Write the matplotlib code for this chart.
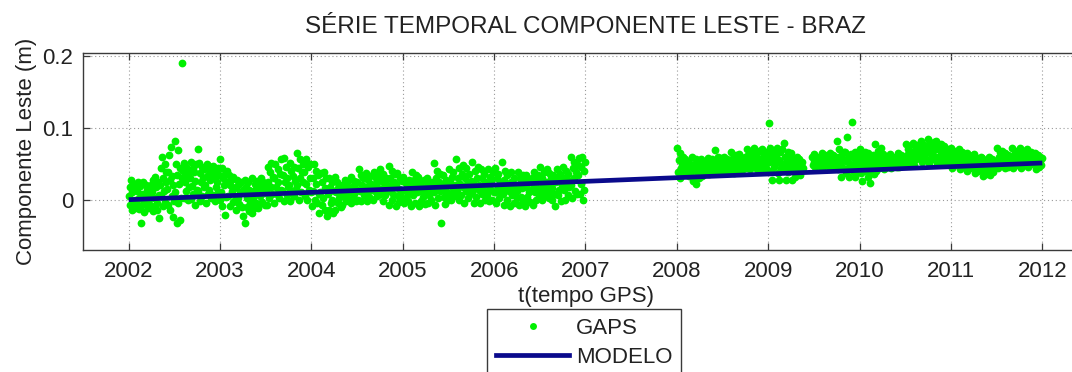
import numpy as np
import matplotlib
matplotlib.use('Agg')
import matplotlib.pyplot as plt
from matplotlib.lines import Line2D

# ---------------- data ----------------
title_text = 'SÉRIE TEMPORAL COMPONENTE LESTE - BRAZ'
xlabel_text = 't(tempo GPS)'
ylabel_text = 'Componente Leste (m)'
legend_labels = ['GAPS', 'MODELO']

x_ticks = [2002, 2003, 2004, 2005, 2006, 2007, 2008, 2009, 2010, 2011, 2012]
y_ticks = [0, 0.1, 0.2]
y_tick_labels = ['0', '0.1', '0.2']

# GAPS east component, millimetres, one list per month (None = no data)
gaps_2002 = [
    [5, -8, 18, 27, -14, 10, -3, 22, 0, -11, 14],
    [12, -6, 25, -13, 3, 19, -32, -9, 8, 24, -2],
    [-17, 6, 21, -4, 13, -12, 17, 1, -8, 9, 20],
    [10, -16, 28, 3, -9, 32, 18, -5, -14, 24, 7],
    [-26, 20, 44, 5, 59, -9, 30, 12, 49, -3, 38, 25],
    [15, -7, 39, 62, 28, -14, 73, 5, 33, -24, 20, -2],
    [82, 10, 49, -33, 35, -5, 69, 22, -28, 44, 2, 30],
    [190, 40, 3, 51, 25, 12, 46, 33, 0, 18, 39],
    [30, 1, 53, 19, 44, 8, 38, -7, 26, 49, 14],
    [70, 12, 51, -2, 37, 24, 45, 5, 30, 18, 42],
    [20, -5, 49, 33, 8, 41, 14, 27, 2, 46, 36],
    [47, 6, 30, -2, 40, 18, 25, 10, 44, 35, 0],
]
gaps_2003 = [
    [57, 10, 44, -9, 30, 20, -22, 36, 4, 25, 40],
    [5, 35, -9, 20, 28, 12, -3, 31, 16, 0],
    [-14, 18, 28, 3, 22, -6, 10, 25, -10, 14],
    [-23, 10, 28, -33, 18, -10, 3, 24, -16, 14, -5],
    [8, -19, 30, 2, -12, 22, 14, -4, 26, -8],
    [-12, 20, 5, 30, -3, 14, 25, 9, -7, 18],
    [12, -7, 46, 25, 2, 38, 18, 51, 8, 32],
    [30, -5, 49, 18, 8, 42, 25, 3, 36, 14],
    [56, 12, 35, -2, 58, 24, 45, 6, 30, 18],
    [20, 51, -2, 40, 12, 33, 5, 46, 26, 15],
    [65, 20, 44, 0, 56, 30, 10, 38, 25, 50],
    [38, 5, 56, 22, 0, 45, 14, 30, 50, 10],
]
gaps_2004 = [
    [-9, 30, 12, 49, 0, 22, 40, -5, 35, 8],
    [-19, 10, 37, -8, 24, 2, 38, -14, 16, 30],
    [-23, 8, 30, -14, 18, -5, 24, 0, -18, 12],
    [32, -14, 10, 25, -5, 16, 2, 20, -10, 6],
    [-7, 20, 5, 28, 12, -2, 24, 9, 16, 0],
    [10, -5, 32, 18, 2, 26, 8, 22, -2, 14],
    [25, 0, 42, 12, 35, -2, 20, 30, 6, 16],
    [8, 37, 18, -2, 28, 12, 33, 2, 22, 14],
    [20, 0, 39, 12, 30, 5, 25, 16, 34, 8],
    [42, 10, 26, -2, 36, 18, 6, 30, 22, 14],
    [12, 47, -7, 30, 20, 0, 40, 8, 25, 36],
    [-9, 22, 37, 5, 15, -3, 30, 10, 26, 2],
]
gaps_2005 = [
    [32, -5, 14, 25, 2, 20, 8, -2, 28, 12],
    [-9, 20, 39, 6, 28, 14, -4, 34, 10, 22],
    [32, -9, 12, 24, -2, 18, 4, 28, 8, -6],
    [14, 30, -5, 20, 6, 25, 0, 16, 10, 24],
    [51, 10, -7, 30, 18, 40, 2, 24, 36, 12],
    [-33, 20, 35, 4, 14, -6, 28, 10, 22, 0],
    [42, 8, 25, 0, 32, 16, 38, 5, 20, 12],
    [56, 14, 30, 0, 44, 22, 6, 36, 18, 48],
    [-5, 30, 44, 12, 22, 2, 36, 18, 8, 26],
    [53, 10, 25, -5, 40, 18, 4, 30, 46, 14],
    [20, -5, 42, 8, 30, 14, 36, 0, 24, 10],
    [6, 42, 20, -2, 32, 14, 26, 0, 38, 10],
]
gaps_2006 = [
    [44, 10, -5, 30, 18, 36, 2, 24, 8, 14],
    [52, 8, -7, 28, 40, 16, 0, 34, 22, 12],
    [-9, 24, 39, 6, 16, -4, 30, 10, 20, 2],
    [12, 39, -7, 22, 30, 4, 16, 34, -2, 26],
    [-9, 18, 35, 4, 24, 10, -3, 28, 14, 30],
    [22, -7, 39, 10, 30, 0, 16, 34, 6, 26],
    [46, 12, 0, 30, 20, 38, 6, 24, 16, 42],
    [10, 37, 2, 22, 30, 0, 16, 34, 8, 26],
    [-9, 24, 42, 6, 32, 14, 36, -2, 20, 28],
    [46, 14, 0, 30, 40, 22, 6, 36, 18, 26],
    [60, 20, 2, 44, 30, 52, 12, 38, 8, 48],
    [34, 58, 8, 46, 22, 60, 0, 40, 14, 52],
]
gaps_2008 = [
    [72, 38, 55, 30, 65, 44, 50, 34, 60, 40],
    [56, 34, 46, 40, 52, 33, 44, 50, 38, 48],
    [60, 26, 45, 50, 22, 56, 38, 48, 30, 42],
    [40, 56, 33, 50, 44, 36, 52, 46, 38, 54],
    [45, 58, 36, 52, 40, 48, 56, 38, 50, 44],
    [69, 40, 55, 38, 60, 46, 50, 42, 58, 48],
    [48, 60, 38, 54, 42, 56, 40, 50, 44, 52],
    [50, 67, 40, 58, 37, 55, 46, 62, 44, 52],
    [46, 63, 40, 55, 50, 58, 42, 52, 48, 60],
    [56, 70, 44, 62, 48, 66, 42, 58, 52, 64],
    [60, 72, 46, 54, 66, 42, 58, 50, 68, 48],
    [48, 70, 56, 40, 62, 52, 66, 44, 58, 54],
]
gaps_2009 = [
    [106, 52, 72, 40, 64, 28, 56, 46, 68, 50],
    [60, 72, 37, 55, 27, 66, 44, 50, 70, 48],
    [79, 46, 60, 28, 55, 38, 66, 50, 42, 58],
    [65, 28, 50, 40, 56, 32, 46, 60, 36, 52],
    [56, 34, 48, 40, 52, 44, None, None, None, None],
    [None, None, None, None, None, None, None, 60, 48, 52],
    [63, 46, 55, 50, 60, 48, 58, 52, 47, 56],
    [65, 46, 56, 50, 62, 48, 54, 60, 52, 58],
    [44, 65, 52, 58, 48, 62, 46, 56, 54, 60],
    [81, 42, 60, 70, 50, 32, 64, 46, 56, 66],
    [67, 37, 54, 87, 44, 60, 32, 50, 64, 48],
    [108, 40, 58, 32, 66, 46, 54, 62, 38, 50],
]
gaps_2010 = [
    [70, 37, 55, 26, 62, 44, 50, 66, 40, 58],
    [65, 32, 50, 23, 58, 40, 46, 62, 36, 54],
    [77, 40, 60, 50, 68, 44, 56, 72, 48, 64],
    [63, 42, 54, 48, 60, 45, 58, 50, 56, 52],
    [63, 44, 56, 50, 60, 47, 54, 58, 52, 46],
    [65, 46, 58, 52, 62, 48, 56, 60, 54, 50],
    [77, 49, 62, 70, 56, 74, 52, 66, 60, 54],
    [79, 48, 66, 72, 56, 76, 60, 70, 64, 68],
    [81, 52, 70, 62, 76, 58, 72, 66, 55, 74],
    [84, 51, 72, 64, 78, 56, 68, 80, 60, 74],
    [81, 51, 70, 60, 76, 56, 66, 78, 62, 72],
    [74, 49, 64, 56, 70, 52, 60, 68, 58, 66],
]
gaps_2011 = [
    [72, 44, 60, 52, 68, 48, 56, 64, 50, 66],
    [70, 42, 58, 50, 66, 46, 54, 62, 48, 64],
    [65, 40, 54, 46, 60, 44, 50, 58, 48, 62],
    [63, 37, 52, 44, 58, 40, 48, 56, 46, 60],
    [58, 33, 48, 40, 54, 36, 44, 52, 42, 50],
    [60, 35, 50, 42, 56, 38, 46, 54, 44, 52],
    [72, 44, 60, 52, 66, 48, 56, 68, 50, 64],
    [65, 44, 58, 50, 62, 46, 54, 60, 48, 56],
    [72, 44, 62, 52, 68, 48, 58, 66, 54, 64],
    [72, 44, 60, 54, 68, 48, 56, 66, 52, 64],
    [70, 46, 60, 54, 66, 50, 58, 64, 52, 62],
    [65, 42, 56, 50, 62, 46, 54, 60, 48, 58],
]
gaps_years = [2002, 2003, 2004, 2005, 2006, 2008, 2009, 2010, 2011]
gaps_by_year = [gaps_2002, gaps_2003, gaps_2004, gaps_2005, gaps_2006,
                gaps_2008, gaps_2009, gaps_2010, gaps_2011]

# linear model (MODELO)
modelo_t = [2002.0, 2012.0]
modelo_m = [0.000, 0.051]

# ---------------- build series ----------------
t_list, y_list = [], []
for yr, months in zip(gaps_years, gaps_by_year):
    for m, vals in enumerate(months):
        n = len(vals)
        for k, v in enumerate(vals):
            if v is None:
                continue
            t_list.append(yr + (m + (k + 0.5) / n) / 12.0)
            y_list.append(v / 1000.0)
t_arr = np.array(t_list)
y_arr = np.array(y_list)

# ---------------- figure ----------------
plt.rcParams['font.family'] = ['Liberation Sans', 'DejaVu Sans']
W, H = 1072, 372
fig = plt.figure(figsize=(W / 100, H / 100), dpi=100)
fig.patch.set_facecolor('white')

ax_l, ax_r, ax_t, ax_b = 83, 1088, 53, 250
ax = fig.add_axes([ax_l / W, 1 - ax_b / H, (ax_r - ax_l) / W, (ax_b - ax_t) / H])

green = '#00f000'
navy = '#0a0a8c'
ax.plot(t_arr, y_arr, linestyle='none', marker='o', ms=5.6, mew=0,
        color=green, zorder=2)
ax.plot(modelo_t, modelo_m, color=navy, lw=3.4, solid_capstyle='butt', zorder=3)

ax.set_xlim(2001.5, 2012.5)
ax.set_ylim(-0.07, 0.204)
ax.set_xticks(x_ticks)
ax.set_xticklabels([str(v) for v in x_ticks])
ax.set_yticks(y_ticks)
ax.set_yticklabels(y_tick_labels)

ax.grid(True, linestyle=(0, (1, 2.5)), color='#9a9a9a', linewidth=0.8, zorder=0)
ax.set_axisbelow(True)
for s in ax.spines.values():
    s.set_color('#3a3a3a')
    s.set_linewidth(1.0)
ax.tick_params(direction='in', top=True, right=True, length=5, width=0.9,
               colors='#3a3a3a', labelcolor='#222222', labelsize=16)
ax.tick_params(axis='x', pad=8)
ax.tick_params(axis='y', pad=7)

ax.set_xlabel(xlabel_text, fontsize=16, color='#222222', labelpad=3)
ax.set_ylabel(ylabel_text, fontsize=16, color='#222222', labelpad=4)

fig.text(585 / W, 1 - 27 / H, title_text, ha='center', va='center',
         fontsize=17.5, color='#222222')

handles = [
    Line2D([], [], linestyle='none', marker='o', ms=5.0, mew=0, color=green),
    Line2D([], [], color=navy, lw=3.4),
]
leg = fig.legend(handles, legend_labels, loc='upper left',
                 bbox_to_anchor=(487 / W, 1 - 309 / H), bbox_transform=fig.transFigure,
                 fontsize=16, frameon=True, fancybox=False, framealpha=1,
                 edgecolor='#3a3a3a', borderpad=0.4, handlelength=3.3,
                 handletextpad=0.3, labelspacing=0.35, borderaxespad=0,
                 numpoints=1)
leg.get_frame().set_linewidth(1.0)
for txt in leg.get_texts():
    txt.set_color('#222222')

fig.savefig('out.png', dpi=100, facecolor='white')
